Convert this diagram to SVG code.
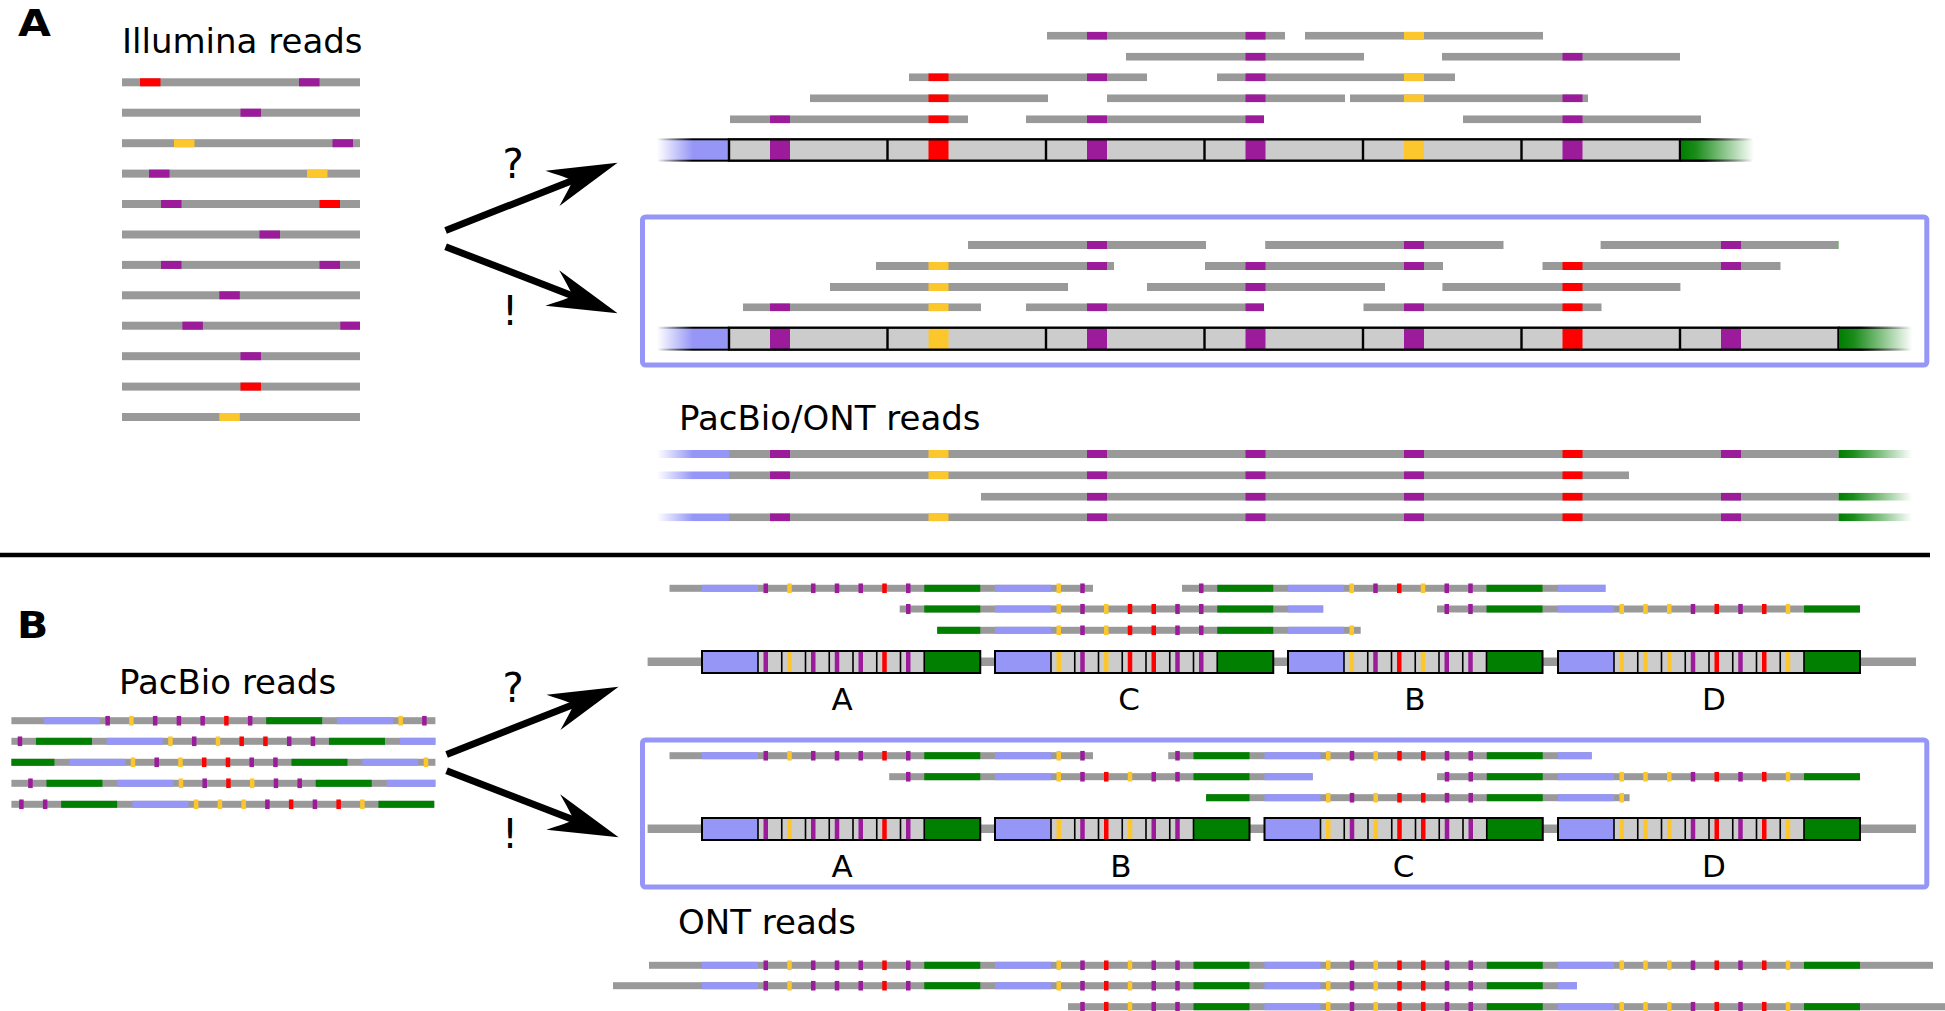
<svg xmlns="http://www.w3.org/2000/svg" width="1945" height="1011" viewBox="0 0 1945 1011">
<style>
.g{fill:#999999}
.P{fill:#9b1b9b}
.R{fill:#ff0000}
.Y{fill:#fcc72c}
.bl{fill:#9696f7}
.gr{fill:#007f00}
.cg{fill:#cccccc}
.sep{stroke:#000;stroke-width:1.6;fill:none}
.sepA{stroke:#000;stroke-width:2.4;fill:none}
.ol{fill:none;stroke:#000;stroke-width:2}
.box{fill:none;stroke:#9696f7;stroke-width:5}
.arr{stroke:#000;stroke-width:7;fill:none}
.t{font-family:"DejaVu Sans",Verdana,sans-serif;font-size:34px;fill:#000}
.lab{font-family:"DejaVu Sans",Verdana,sans-serif;font-size:31px;fill:#000;text-anchor:middle}
.big{font-family:"DejaVu Sans",Verdana,sans-serif;font-weight:bold;font-size:38px;fill:#000}
.q{font-family:"DejaVu Sans",Verdana,sans-serif;font-size:40px;fill:#000;text-anchor:middle}
</style>
<defs>
<linearGradient id="fadeBlue" x1="0" x2="1" y1="0" y2="0"><stop offset="0" stop-color="#9696f7" stop-opacity="0"/><stop offset="0.5" stop-color="#9696f7" stop-opacity="1"/></linearGradient>
<linearGradient id="fadeGreen" x1="0" x2="1" y1="0" y2="0"><stop offset="0" stop-color="#007f00" stop-opacity="1"/><stop offset="0.2" stop-color="#007f00" stop-opacity="0.9"/><stop offset="1" stop-color="#007f00" stop-opacity="0"/></linearGradient>
<linearGradient id="fadeBlackL" x1="0" x2="1" y1="0" y2="0"><stop offset="0" stop-color="#000" stop-opacity="0"/><stop offset="0.5" stop-color="#000" stop-opacity="1"/></linearGradient>
<linearGradient id="fadeBlackR" x1="0" x2="1" y1="0" y2="0"><stop offset="0.3" stop-color="#000" stop-opacity="1"/><stop offset="1" stop-color="#000" stop-opacity="0"/></linearGradient>
<marker id="ah" markerUnits="userSpaceOnUse" orient="auto" refX="0" refY="0" viewBox="-40 -30 120 60" markerWidth="120" markerHeight="60" overflow="visible"><path d="M45 0 L-25 -19 Q-8 -5 -3 0 Q-8 5 -25 19 Z" fill="#000"/></marker>

<g id="sA1">
<rect class="g" x="600" y="-4" width="1345" height="8"/>
<rect class="P" x="770" y="-4" width="20" height="8"/>
<rect class="R" x="928.5" y="-4" width="20" height="8"/>
<rect class="P" x="1087" y="-4" width="20" height="8"/>
<rect class="P" x="1245.5" y="-4" width="20" height="8"/>
<rect class="Y" x="1404" y="-4" width="20" height="8"/>
<rect class="P" x="1562.5" y="-4" width="20" height="8"/>
</g>
<g id="sA2">
<rect fill="url(#fadeBlue)" x="657" y="-4" width="72" height="8"/>
<rect class="g" x="729" y="-4" width="1109.5" height="8"/>
<rect fill="url(#fadeGreen)" x="1838.5" y="-4" width="73.5" height="8"/>
<rect class="P" x="770" y="-4" width="20" height="8"/>
<rect class="Y" x="928.5" y="-4" width="20" height="8"/>
<rect class="P" x="1087" y="-4" width="20" height="8"/>
<rect class="P" x="1245.5" y="-4" width="20" height="8"/>
<rect class="P" x="1404" y="-4" width="20" height="8"/>
<rect class="R" x="1562.5" y="-4" width="20" height="8"/>
<rect class="P" x="1721" y="-4" width="20" height="8"/>
</g>

<g id="rA">
<rect class="bl" y="-3.5" width="56" height="7"/><rect class="gr" x="222.25" y="-3.5" width="56" height="7"/>
<rect class="P" x="61.5" y="-5" width="4.5" height="10"/><rect class="Y" x="85.25" y="-5" width="4.5" height="10"/><rect class="P" x="109" y="-5" width="4.5" height="10"/><rect class="P" x="132.75" y="-5" width="4.5" height="10"/><rect class="P" x="156.5" y="-5" width="4.5" height="10"/><rect class="R" x="180.25" y="-5" width="4.5" height="10"/><rect class="P" x="204" y="-5" width="4.5" height="10"/>
</g>
<g id="rB">
<rect class="bl" y="-3.5" width="56" height="7"/><rect class="gr" x="198.5" y="-3.5" width="56" height="7"/>
<rect class="Y" x="61.5" y="-5" width="4.5" height="10"/><rect class="P" x="85.25" y="-5" width="4.5" height="10"/><rect class="R" x="109" y="-5" width="4.5" height="10"/><rect class="Y" x="132.75" y="-5" width="4.5" height="10"/><rect class="P" x="156.5" y="-5" width="4.5" height="10"/><rect class="P" x="180.25" y="-5" width="4.5" height="10"/>
</g>
<g id="rC">
<rect class="bl" y="-3.5" width="56" height="7"/><rect class="gr" x="222.25" y="-3.5" width="56" height="7"/>
<rect class="Y" x="61.5" y="-5" width="4.5" height="10"/><rect class="P" x="85.25" y="-5" width="4.5" height="10"/><rect class="Y" x="109" y="-5" width="4.5" height="10"/><rect class="R" x="132.75" y="-5" width="4.5" height="10"/><rect class="R" x="156.5" y="-5" width="4.5" height="10"/><rect class="P" x="180.25" y="-5" width="4.5" height="10"/><rect class="P" x="204" y="-5" width="4.5" height="10"/>
</g>
<g id="rD">
<rect class="bl" y="-3.5" width="56" height="7"/><rect class="gr" x="246" y="-3.5" width="56" height="7"/>
<rect class="Y" x="61.5" y="-5" width="4.5" height="10"/><rect class="Y" x="85.25" y="-5" width="4.5" height="10"/><rect class="Y" x="109" y="-5" width="4.5" height="10"/><rect class="P" x="132.75" y="-5" width="4.5" height="10"/><rect class="R" x="156.5" y="-5" width="4.5" height="10"/><rect class="P" x="180.25" y="-5" width="4.5" height="10"/><rect class="R" x="204" y="-5" width="4.5" height="10"/><rect class="Y" x="227.75" y="-5" width="4.5" height="10"/>
</g>
<g id="sBt">
<rect class="g" x="590" y="-3.5" width="1355" height="7"/>
<use href="#rA" x="702"/><use href="#rC" x="995"/><use href="#rB" x="1288"/><use href="#rD" x="1558"/>
</g>
<g id="sBl">
<rect class="g" x="590" y="-3.5" width="1355" height="7"/>
<use href="#rA" x="702"/><use href="#rB" x="995"/><use href="#rC" x="1264.5"/><use href="#rD" x="1558"/>
</g>

<g id="cA">
<rect class="cg" width="278.25" height="22"/><rect class="bl" width="56" height="22"/><rect class="gr" x="222.25" width="56" height="22"/>
<rect class="P" x="61.5" width="4.5" height="22"/><rect class="Y" x="85.25" width="4.5" height="22"/><rect class="P" x="109" width="4.5" height="22"/><rect class="P" x="132.75" width="4.5" height="22"/><rect class="P" x="156.5" width="4.5" height="22"/><rect class="R" x="180.25" width="4.5" height="22"/><rect class="P" x="204" width="4.5" height="22"/>
<path class="sep" d="M56 0V22M79.75 0V22M103.5 0V22M127.25 0V22M151 0V22M174.75 0V22M198.5 0V22M222.25 0V22"/>
<rect class="ol" width="278.25" height="22"/>
</g>
<g id="cB">
<rect class="cg" width="254.5" height="22"/><rect class="bl" width="56" height="22"/><rect class="gr" x="198.5" width="56" height="22"/>
<rect class="Y" x="61.5" width="4.5" height="22"/><rect class="P" x="85.25" width="4.5" height="22"/><rect class="R" x="109" width="4.5" height="22"/><rect class="Y" x="132.75" width="4.5" height="22"/><rect class="P" x="156.5" width="4.5" height="22"/><rect class="P" x="180.25" width="4.5" height="22"/>
<path class="sep" d="M56 0V22M79.75 0V22M103.5 0V22M127.25 0V22M151 0V22M174.75 0V22M198.5 0V22"/>
<rect class="ol" width="254.5" height="22"/>
</g>
<g id="cC">
<rect class="cg" width="278.25" height="22"/><rect class="bl" width="56" height="22"/><rect class="gr" x="222.25" width="56" height="22"/>
<rect class="Y" x="61.5" width="4.5" height="22"/><rect class="P" x="85.25" width="4.5" height="22"/><rect class="Y" x="109" width="4.5" height="22"/><rect class="R" x="132.75" width="4.5" height="22"/><rect class="R" x="156.5" width="4.5" height="22"/><rect class="P" x="180.25" width="4.5" height="22"/><rect class="P" x="204" width="4.5" height="22"/>
<path class="sep" d="M56 0V22M79.75 0V22M103.5 0V22M127.25 0V22M151 0V22M174.75 0V22M198.5 0V22M222.25 0V22"/>
<rect class="ol" width="278.25" height="22"/>
</g>
<g id="cD">
<rect class="cg" width="302" height="22"/><rect class="bl" width="56" height="22"/><rect class="gr" x="246" width="56" height="22"/>
<rect class="Y" x="61.5" width="4.5" height="22"/><rect class="Y" x="85.25" width="4.5" height="22"/><rect class="Y" x="109" width="4.5" height="22"/><rect class="P" x="132.75" width="4.5" height="22"/><rect class="R" x="156.5" width="4.5" height="22"/><rect class="P" x="180.25" width="4.5" height="22"/><rect class="R" x="204" width="4.5" height="22"/><rect class="Y" x="227.75" width="4.5" height="22"/>
<path class="sep" d="M56 0V22M79.75 0V22M103.5 0V22M127.25 0V22M151 0V22M174.75 0V22M198.5 0V22M222.25 0V22M246 0V22"/>
<rect class="ol" width="302" height="22"/>
</g>
</defs>

<rect width="1945" height="1011" fill="#fff"/>

<g id="panelA">
<text class="big" x="18" y="36" transform="translate(18 36) scale(1.12 1) translate(-18 -36)">A</text>
<g id="illumina-reads">
<text class="t" x="122" y="52.5">Illumina reads</text>
<rect class="g" x="122" y="78.3" width="238" height="8"/><rect class="R" x="140" y="78.3" width="20.5" height="8"/><rect class="P" x="299" y="78.3" width="20.5" height="8"/>
<rect class="g" x="122" y="108.7" width="238" height="8"/><rect class="P" x="240.5" y="108.7" width="20.5" height="8"/>
<rect class="g" x="122" y="139.2" width="238" height="8"/><rect class="Y" x="174" y="139.2" width="20.5" height="8"/><rect class="P" x="332.5" y="139.2" width="20.5" height="8"/>
<rect class="g" x="122" y="169.6" width="238" height="8"/><rect class="P" x="149" y="169.6" width="20.5" height="8"/><rect class="Y" x="307" y="169.6" width="20.5" height="8"/>
<rect class="g" x="122" y="200" width="238" height="8"/><rect class="P" x="161" y="200" width="20.5" height="8"/><rect class="R" x="319.5" y="200" width="20.5" height="8"/>
<rect class="g" x="122" y="230.5" width="238" height="8"/><rect class="P" x="259.5" y="230.5" width="20.5" height="8"/>
<rect class="g" x="122" y="260.9" width="238" height="8"/><rect class="P" x="161" y="260.9" width="20.5" height="8"/><rect class="P" x="319.5" y="260.9" width="20.5" height="8"/>
<rect class="g" x="122" y="291.3" width="238" height="8"/><rect class="P" x="219.3" y="291.3" width="20.5" height="8"/>
<rect class="g" x="122" y="321.7" width="238" height="8"/><rect class="P" x="182.4" y="321.7" width="20.5" height="8"/><rect class="P" x="340.3" y="321.7" width="19.7" height="8"/>
<rect class="g" x="122" y="352.2" width="238" height="8"/><rect class="P" x="240.5" y="352.2" width="20.5" height="8"/>
<rect class="g" x="122" y="382.6" width="238" height="8"/><rect class="R" x="240.5" y="382.6" width="20.5" height="8"/>
<rect class="g" x="122" y="413" width="238" height="8"/><rect class="Y" x="219.3" y="413" width="20.5" height="8"/>
</g>

<text class="q" x="513" y="178">?</text>
<text class="q" x="510" y="325">!</text>

<g id="reads-contig1">
<svg x="1047" y="31.7" width="238" height="8" viewBox="1047 -4 238 8"><use href="#sA1"/></svg>
<svg x="1305" y="31.7" width="238" height="8" viewBox="1305 -4 238 8"><use href="#sA1"/></svg>
<svg x="1126" y="52.7" width="238" height="8" viewBox="1126 -4 238 8"><use href="#sA1"/></svg>
<svg x="1442" y="52.7" width="238" height="8" viewBox="1442 -4 238 8"><use href="#sA1"/></svg>
<svg x="909" y="73.3" width="238" height="8" viewBox="909 -4 238 8"><use href="#sA1"/></svg>
<svg x="1217" y="73.3" width="238" height="8" viewBox="1217 -4 238 8"><use href="#sA1"/></svg>
<svg x="810" y="94.3" width="238" height="8" viewBox="810 -4 238 8"><use href="#sA1"/></svg>
<svg x="1107" y="94.3" width="238" height="8" viewBox="1107 -4 238 8"><use href="#sA1"/></svg>
<svg x="1350" y="94.3" width="238" height="8" viewBox="1350 -4 238 8"><use href="#sA1"/></svg>
<svg x="730" y="115.3" width="238" height="8" viewBox="730 -4 238 8"><use href="#sA1"/></svg>
<svg x="1026" y="115.3" width="238" height="8" viewBox="1026 -4 238 8"><use href="#sA1"/></svg>
<svg x="1463" y="115.3" width="238" height="8" viewBox="1463 -4 238 8"><use href="#sA1"/></svg>
</g>

<g id="contig1">
<rect fill="url(#fadeBlue)" x="657" y="139.3" width="72" height="21.4"/>
<rect fill="url(#fadeBlackL)" x="657" y="138.3" width="72" height="2"/>
<rect fill="url(#fadeBlackL)" x="657" y="159.7" width="72" height="2"/>
<rect class="cg" x="729" y="139.3" width="951" height="21.4"/>
<rect class="P" x="770" y="139.3" width="20" height="21.4"/>
<rect class="R" x="928.5" y="139.3" width="20" height="21.4"/>
<rect class="P" x="1087" y="139.3" width="20" height="21.4"/>
<rect class="P" x="1245.5" y="139.3" width="20" height="21.4"/>
<rect class="Y" x="1404" y="139.3" width="20" height="21.4"/>
<rect class="P" x="1562.5" y="139.3" width="20" height="21.4"/>
<path class="sepA" d="M887.5 139.3V160.7M1046 139.3V160.7M1204.5 139.3V160.7M1363 139.3V160.7M1521.5 139.3V160.7"/>
<rect class="ol" x="729" y="139.3" width="951" height="21.4" style="stroke-width:2.4"/>
<rect fill="url(#fadeGreen)" x="1681" y="139.3" width="73" height="21.4"/>
<rect fill="url(#fadeBlackR)" x="1680" y="138.1" width="73" height="2.4"/>
<rect fill="url(#fadeBlackR)" x="1680" y="159.5" width="73" height="2.4"/>
</g>

<g id="box-A">
<rect class="box" x="642.5" y="217" width="1284.3" height="148" rx="3"/>
</g>

<g id="reads-contig2">
<svg x="968" y="241" width="238" height="8" viewBox="968 -4 238 8"><use href="#sA2"/></svg>
<svg x="1265.5" y="241" width="238" height="8" viewBox="1265.5 -4 238 8"><use href="#sA2"/></svg>
<svg x="1600.6" y="241" width="238" height="8" viewBox="1600.6 -4 238 8"><use href="#sA2"/></svg>
<svg x="876" y="262" width="238" height="8" viewBox="876 -4 238 8"><use href="#sA2"/></svg>
<svg x="1205" y="262" width="238" height="8" viewBox="1205 -4 238 8"><use href="#sA2"/></svg>
<svg x="1542.5" y="262" width="238" height="8" viewBox="1542.5 -4 238 8"><use href="#sA2"/></svg>
<svg x="830" y="283" width="238" height="8" viewBox="830 -4 238 8"><use href="#sA2"/></svg>
<svg x="1147" y="283" width="238" height="8" viewBox="1147 -4 238 8"><use href="#sA2"/></svg>
<svg x="1442.4" y="283" width="238" height="8" viewBox="1442.4 -4 238 8"><use href="#sA2"/></svg>
<svg x="743" y="303.3" width="238" height="8" viewBox="743 -4 238 8"><use href="#sA2"/></svg>
<svg x="1026" y="303.3" width="238" height="8" viewBox="1026 -4 238 8"><use href="#sA2"/></svg>
<svg x="1363.5" y="303.3" width="238" height="8" viewBox="1363.5 -4 238 8"><use href="#sA2"/></svg>
</g>

<g id="contig2">
<rect fill="url(#fadeBlue)" x="657" y="327.7" width="72" height="22"/>
<rect fill="url(#fadeBlackL)" x="657" y="326.7" width="72" height="2"/>
<rect fill="url(#fadeBlackL)" x="657" y="348.7" width="72" height="2"/>
<rect class="cg" x="729" y="327.7" width="1109.5" height="22"/>
<rect class="P" x="770" y="327.7" width="20" height="22"/>
<rect class="Y" x="928.5" y="327.7" width="20" height="22"/>
<rect class="P" x="1087" y="327.7" width="20" height="22"/>
<rect class="P" x="1245.5" y="327.7" width="20" height="22"/>
<rect class="P" x="1404" y="327.7" width="20" height="22"/>
<rect class="R" x="1562.5" y="327.7" width="20" height="22"/>
<rect class="P" x="1721" y="327.7" width="20" height="22"/>
<path class="sepA" d="M887.5 327.7V349.7M1046 327.7V349.7M1204.5 327.7V349.7M1363 327.7V349.7M1521.5 327.7V349.7M1680 327.7V349.7"/>
<rect class="ol" x="729" y="327.7" width="1109.5" height="22" style="stroke-width:2.4"/>
<rect fill="url(#fadeGreen)" x="1839.5" y="327.7" width="73" height="22"/>
<rect fill="url(#fadeBlackR)" x="1838.5" y="326.5" width="73" height="2.4"/>
<rect fill="url(#fadeBlackR)" x="1838.5" y="348.5" width="73" height="2.4"/>
</g>

<g id="long-reads-A">
<text class="t" x="679" y="430">PacBio/ONT reads</text>
<svg x="640" y="450" width="1305" height="8" viewBox="640 -4 1305 8"><use href="#sA2"/></svg>
<svg x="640" y="471.3" width="989" height="8" viewBox="640 -4 989 8"><use href="#sA2"/></svg>
<svg x="981" y="492.7" width="964" height="8" viewBox="981 -4 964 8"><use href="#sA2"/></svg>
<svg x="640" y="513.3" width="1305" height="8" viewBox="640 -4 1305 8"><use href="#sA2"/></svg>
</g>
</g>

<g id="divider">
<line x1="0" y1="555" x2="1930" y2="555" stroke="#000" stroke-width="4.5"/>
</g>

<g id="panelB">
<text class="big" x="17" y="638" transform="translate(17 638) scale(1.08 1) translate(-17 -638)">B</text>
<g id="pacbio-reads">
<text class="t" x="119" y="693.5">PacBio reads</text>
<svg x="11.4" y="715.7" width="424" height="10" viewBox="669.5 -5 424 10"><use href="#sBt"/></svg>
<svg x="11.4" y="736.3" width="424" height="10" viewBox="899.7 -5 424 10"><use href="#sBt"/></svg>
<svg x="11.4" y="757.3" width="424" height="10" viewBox="937.2 -5 424 10"><use href="#sBt"/></svg>
<svg x="11.4" y="778.3" width="424" height="10" viewBox="889.2 -5 424 10"><use href="#sBl"/></svg>
<svg x="11.4" y="799.3" width="423" height="10" viewBox="1437 -5 423 10"><use href="#sBl"/></svg>
</g>

<text class="q" x="513" y="701.5">?</text>
<text class="q" x="510" y="848">!</text>

<g id="assembly-B-wrong">
<svg x="669.5" y="583.3" width="423.5" height="10" viewBox="669.5 -5 423.5 10"><use href="#sBt"/></svg>
<svg x="1182" y="583.3" width="423.5" height="10" viewBox="1182 -5 423.5 10"><use href="#sBt"/></svg>
<svg x="899.7" y="604" width="423.5" height="10" viewBox="899.7 -5 423.5 10"><use href="#sBt"/></svg>
<svg x="1437" y="604" width="423" height="10" viewBox="1437 -5 423 10"><use href="#sBt"/></svg>
<svg x="937.2" y="625.3" width="423.5" height="10" viewBox="937.2 -5 423.5 10"><use href="#sBt"/></svg>
<rect class="g" x="647.6" y="657.5" width="1268.4" height="8.5"/>
<use href="#cA" x="702" y="651"/>
<use href="#cC" x="995" y="651"/>
<use href="#cB" x="1288" y="651"/>
<use href="#cD" x="1558" y="651"/>
<text class="lab" x="842" y="710">A</text>
<text class="lab" x="1129" y="710">C</text>
<text class="lab" x="1415" y="710">B</text>
<text class="lab" x="1714" y="710">D</text>
</g>

<g id="box-B">
<rect class="box" x="642.5" y="740" width="1284.3" height="147" rx="3"/>
</g>

<g id="assembly-B-right">
<svg x="669.5" y="750.7" width="423.5" height="10" viewBox="669.5 -5 423.5 10"><use href="#sBl"/></svg>
<svg x="1168.2" y="750.7" width="423.5" height="10" viewBox="1168.2 -5 423.5 10"><use href="#sBl"/></svg>
<svg x="889.2" y="771.7" width="423.5" height="10" viewBox="889.2 -5 423.5 10"><use href="#sBl"/></svg>
<svg x="1437" y="771.7" width="423" height="10" viewBox="1437 -5 423 10"><use href="#sBl"/></svg>
<svg x="1206.1" y="792.7" width="423.5" height="10" viewBox="1206.1 -5 423.5 10"><use href="#sBl"/></svg>
<rect class="g" x="647.6" y="824.5" width="1268.4" height="8.5"/>
<use href="#cA" x="702" y="818"/>
<use href="#cB" x="995" y="818"/>
<use href="#cC" x="1264.5" y="818"/>
<use href="#cD" x="1558" y="818"/>
<text class="lab" x="842" y="877">A</text>
<text class="lab" x="1121" y="877">B</text>
<text class="lab" x="1403.5" y="877">C</text>
<text class="lab" x="1714" y="877">D</text>
</g>

<g id="ont-reads">
<text class="t" x="678" y="933.5">ONT reads</text>
<svg x="649" y="960.3" width="1284" height="10" viewBox="649 -5 1284 10"><use href="#sBl"/></svg>
<svg x="613" y="980.7" width="964" height="10" viewBox="613 -5 964 10"><use href="#sBl"/></svg>
<svg x="1068" y="1001.7" width="877" height="10" viewBox="1068 -5 877 10"><use href="#sBl"/></svg>
</g>
</g>

<g id="connectors">
<g id="arrows-A">
<path class="arr" d="M445.6 230.5 L575.7 179.2" marker-end="url(#ah)"/>
<path class="arr" d="M445.6 246.7 L575.6 297" marker-end="url(#ah)"/>
</g>
<g id="arrows-B" transform="translate(1,524)">
<path class="arr" d="M445.6 230.5 L575.7 179.2" marker-end="url(#ah)"/>
<path class="arr" d="M445.6 246.7 L575.6 297" marker-end="url(#ah)"/>
</g>
</g>
</svg>
